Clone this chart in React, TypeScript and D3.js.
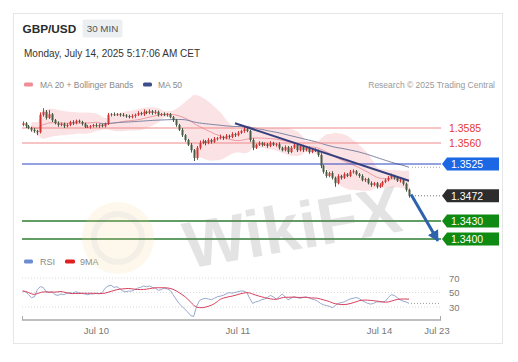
import * as d3 from 'd3';

// 30 min GBP/USD bars, Jul 9 11:30 → Jul 14 05:00 (weekend skipped)
const closes = [
  1.3593, 1.3588, 1.3585, 1.3582, 1.3580, 1.3578, 1.3607, 1.3612, 1.3602, 1.3608,
  1.3598, 1.3593, 1.3590, 1.3592, 1.3588, 1.3590, 1.3595, 1.3593, 1.3597, 1.3595,
  1.3592, 1.3587, 1.3587, 1.3588, 1.3590, 1.3588, 1.3590, 1.3588, 1.3592, 1.3607,
  1.3608, 1.3607, 1.3608, 1.3607, 1.3606, 1.3605, 1.3603, 1.3605, 1.3607, 1.3610,
  1.3608, 1.3612, 1.3610, 1.3613, 1.3610, 1.3612, 1.3607, 1.3608, 1.3607, 1.3608,
  1.3603, 1.3598, 1.3590, 1.3582, 1.3573, 1.3565, 1.3557, 1.3548, 1.3535, 1.3552,
  1.3560, 1.3563, 1.3560, 1.3565, 1.3562, 1.3567, 1.3568, 1.3570, 1.3568, 1.3572,
  1.3570, 1.3575, 1.3573, 1.3577, 1.3580, 1.3583, 1.3580, 1.3565, 1.3552, 1.3557,
  1.3560, 1.3557, 1.3558, 1.3555, 1.3560, 1.3557, 1.3558, 1.3552, 1.3548, 1.3553,
  1.3545, 1.3552, 1.3557, 1.3548, 1.3555, 1.3548, 1.3552, 1.3545, 1.3548, 1.3547,
  1.3540, 1.3522, 1.3512, 1.3505, 1.3510, 1.3502, 1.3493, 1.3505, 1.3502, 1.3508,
  1.3505, 1.3512, 1.3513, 1.3508, 1.3505, 1.3498, 1.3500, 1.3493, 1.3490, 1.3493,
  1.3487, 1.3490, 1.3495, 1.3498, 1.3502, 1.3505, 1.3502, 1.3497, 1.3498, 1.3492,
  1.3482, 1.3472,
];
const firstOpen = 1.359;

// wick length beyond the body, in pips
const wickHi = [
  3, 2, 2, 2, 3, 2, 4, 6, 3, 7,
  2, 2, 3, 2, 2, 3, 2, 3, 2, 2,
  2, 2, 3, 2, 2, 3, 2, 2, 2, 3,
  2, 3, 2, 2, 3, 2, 2, 3, 2, 3,
  2, 4, 2, 3, 2, 3, 2, 2, 3, 2,
  2, 2, 2, 2, 3, 2, 2, 3, 2, 3,
  4, 3, 2, 3, 2, 3, 2, 4, 2, 3,
  2, 3, 2, 3, 2, 4, 3, 2, 3, 2,
  3, 2, 3, 2, 3, 2, 2, 3, 2, 3,
  2, 3, 3, 2, 3, 2, 3, 2, 2, 3,
  2, 3, 2, 3, 2, 3, 2, 3, 2, 3,
  2, 3, 3, 2, 2, 3, 2, 2, 3, 2,
  2, 3, 2, 3, 3, 4, 2, 3, 2, 2,
  2, 2,
];
const wickLo = [
  2, 3, 2, 3, 3, 5, 2, 3, 3, 2,
  3, 2, 3, 2, 3, 2, 2, 3, 2, 2,
  3, 2, 2, 3, 2, 2, 3, 2, 2, 2,
  3, 2, 2, 3, 2, 3, 2, 2, 3, 2,
  2, 3, 2, 2, 3, 2, 3, 2, 2, 3,
  2, 3, 3, 2, 3, 3, 2, 4, 5, 3,
  3, 2, 4, 2, 3, 2, 3, 2, 3, 2,
  3, 2, 3, 2, 2, 3, 2, 3, 4, 2,
  2, 3, 2, 3, 2, 2, 3, 3, 2, 2,
  3, 2, 2, 3, 2, 3, 2, 3, 2, 2,
  3, 4, 3, 3, 2, 3, 6, 2, 3, 2,
  2, 2, 3, 2, 3, 2, 3, 2, 3, 2,
  3, 2, 3, 2, 2, 2, 3, 2, 3, 3,
  3, 3,
];

const rsiValues = [
  52, 51, 47, 43, 44, 54, 58, 57, 51, 50,
  51, 47, 46, 48, 47, 49, 50, 49, 51, 50,
  49, 48, 47, 48, 48, 49, 48, 50, 56, 59,
  60, 57, 58, 55, 52, 51, 52, 52, 54, 56,
  57, 59, 58, 59, 57, 56, 53, 54, 56, 55,
  53, 47, 41, 35, 31, 27, 23, 18, 17, 31,
  39, 41, 42, 41, 40, 42, 44, 45, 46, 48,
  50, 49, 50, 51, 52, 52, 50, 42, 35, 37,
  38, 40, 41, 43, 46, 44, 41, 44, 48, 44,
  40, 42, 44, 43, 42, 43, 44, 43, 41, 40,
  38, 35, 33, 32, 31, 29, 32, 35, 36, 37,
  39, 41, 42, 43, 42, 39, 37, 35, 34, 35,
  37, 37, 37, 38, 43, 47, 46, 43, 40, 38,
  37, 35,
];

const xTickLabels = ['Jul 10', 'Jul 11', 'Jul 14', 'Jul 23'];
const xTickIndex = [25, 73, 121, 140.5];
const rsiTicks = [70, 50, 30];

const resistanceLevels = [1.3585, 1.356];
const pivotLevel = 1.3525;
const lastPrice = 1.3472;
const supportLevels = [1.343, 1.34];

const trendFrom = [72, 1.3593];
const trendTo = [131, 1.3497];
const targetFrom = [131.7, 1.3474];
const targetTo = [140.8, 1.3397];

const FONT = '"Liberation Sans", Arial, sans-serif';
const PIP = 0.0001;

// simple moving average over a trailing window (shorter at the start)
const sma = (arr: number[], n: number, i: number) => {
  const w = arr.slice(Math.max(0, i - n + 1), i + 1);
  return d3.mean(w) as number;
};

export default function App() {
  const x = d3.scaleLinear().domain([0, 131]).range([22.6, 409]);
  const y = d3.scaleLinear().domain([1.34, 1.3585]).range([239, 128]);
  const ry = d3.scaleLinear().domain([30, 70]).range([307, 278]);

  const candles = closes.map((c, i) => {
    const o = i === 0 ? firstOpen : closes[i - 1];
    return {
      i,
      o,
      c,
      h: Math.max(o, c) + wickHi[i] * PIP,
      l: Math.min(o, c) - wickLo[i] * PIP,
    };
  });

  // Bollinger(20, 2) and MA50 from the closes
  const bb = closes
    .map((_, i) => {
      const w = closes.slice(Math.max(0, i - 19), i + 1);
      const m = d3.mean(w) as number;
      const sd = Math.sqrt(d3.mean(w, (v) => (v - m) ** 2) as number);
      return { i, m, up: m + 2 * sd, lo: m - 2 * sd };
    })
    .filter((d) => d.i >= 3);
  const ma50 = closes.map((_, i) => ({ i, v: sma(closes, 50, i) })).filter((d) => d.i >= 26);
  const rsiMa = rsiValues.map((_, i) => ({ i, v: sma(rsiValues, 9, i) }));

  const band = d3
    .area<any>()
    .x((d) => x(d.i))
    .y0((d) => y(d.lo))
    .y1((d) => y(d.up))
    .curve(d3.curveMonotoneX);
  const line = d3
    .line<any>()
    .x((d) => x(d.i))
    .y((d) => y(d.v))
    .curve(d3.curveMonotoneX);
  const rsiLine = d3
    .line<number>()
    .x((_, i) => x(i))
    .y((d) => ry(d));
  const rsiMaLine = d3
    .line<any>()
    .x((d) => x(d.i))
    .y((d) => ry(d.v))
    .curve(d3.curveMonotoneX);

  const lineX0 = 22;
  const lineX1 = 441;

  const tag = (v: number, fill: string, key: string) => {
    const yc = y(v);
    const pts = [
      [442, yc],
      [447, yc - 6.5],
      [499, yc - 6.5],
      [499, yc + 6.5],
      [447, yc + 6.5],
    ];
    return (
      <g key={key}>
        <polygon points={pts.map((p) => p.join(',')).join(' ')} fill={fill} />
        <text x={451} y={yc + 3.8} fontSize={10.5} fill="#fff">
          {v.toFixed(4)}
        </text>
      </g>
    );
  };

  const lastMa50 = ma50[ma50.length - 1].v;

  return (
    <svg
      width={518}
      height={362}
      style={{ position: 'absolute', left: 0, top: 0, background: '#fff' }}
      fontFamily={FONT}
    >
      <defs>
        <marker
          id="arrowHead"
          markerUnits="userSpaceOnUse"
          markerWidth={12}
          markerHeight={12}
          refX={10}
          refY={6}
          orient="auto"
        >
          <path d="M0,0 L11,6 L0,12 z" fill="#2f62ad" />
        </marker>
      </defs>

      <rect x={13.5} y={13.5} width={489} height={330} fill="#fff" stroke="#e6e6e6" />

      {/* header */}
      <text x={22.5} y={32.5} fontSize={11.8} fontWeight="bold" fill="#2a2a2a">
        GBP/USD
      </text>
      <rect x={82.5} y={19.5} width={40} height={18} rx={2} fill="#eceff1" />
      <text x={102.5} y={32} fontSize={9.8} fill="#555" textAnchor="middle">
        30 MIN
      </text>
      <text x={24} y={57} fontSize={10} fill="#333">
        Monday, July 14, 2025 5:17:06 AM CET
      </text>

      {/* legend */}
      <rect x={24} y={82.5} width={9} height={4} rx={1.5} fill="#f08c95" />
      <text x={40} y={87.8} fontSize={8.5} fill="#8a8a8a">
        MA 20 + Bollinger Bands
      </text>
      <rect x={143} y={82.5} width={9} height={4} rx={1.5} fill="#3c4f8c" />
      <text x={158} y={87.8} fontSize={8.5} fill="#8a8a8a">
        MA 50
      </text>
      <text x={495} y={87.8} fontSize={8.5} fill="#9a9a9a" textAnchor="end">
        Research © 2025 Trading Central
      </text>

      {/* bollinger band + moving averages */}
      <path d={band(bb) ?? ''} fill="#f9d3d5" opacity={0.65} />
      <path
        d={line(bb.map((d) => ({ i: d.i, v: d.m }))) ?? ''}
        fill="none"
        stroke="#ee9aa2"
        strokeWidth={1}
      />
      <path d={line(ma50) ?? ''} fill="none" stroke="#7d84a3" strokeWidth={1} />

      {/* levels */}
      {resistanceLevels.map((v) => (
        <g key={'r' + v}>
          <line x1={lineX0} x2={lineX1} y1={y(v)} y2={y(v)} stroke="#f08a8a" strokeWidth={1} />
          <text x={449} y={y(v) + 4} fontSize={10.5} fill="#e53935">
            {v.toFixed(4)}
          </text>
        </g>
      ))}
      <line x1={lineX0} x2={lineX1} y1={y(pivotLevel)} y2={y(pivotLevel)} stroke="#2f45c0" strokeWidth={1.2} />
      {supportLevels.map((v) => (
        <line key={'s' + v} x1={lineX0} x2={lineX1} y1={y(v)} y2={y(v)} stroke="#2e7d32" strokeWidth={1.6} />
      ))}

      {/* candles */}
      {candles.map((d) => {
        const cx = Math.round(x(d.i)) + 0.5;
        const col = d.c >= d.o ? '#d03434' : '#485c42';
        const top = y(Math.max(d.o, d.c));
        const bot = y(Math.min(d.o, d.c));
        return (
          <g key={d.i}>
            <line x1={cx} x2={cx} y1={y(d.h)} y2={y(d.l)} stroke={col} strokeWidth={1} />
            <rect x={cx - 1} y={top} width={2} height={Math.max(1, bot - top)} fill={col} />
          </g>
        );
      })}

      {/* dotted extensions to price tags */}
      <line
        x1={x(131) + 3}
        x2={440}
        y1={y(lastMa50)}
        y2={y(lastMa50)}
        stroke="#aaa"
        strokeDasharray="1,2"
      />
      <line
        x1={x(131) + 3}
        x2={442}
        y1={y(lastPrice)}
        y2={y(lastPrice)}
        stroke="#777"
        strokeDasharray="1,2"
      />

      {/* trend line */}
      <line
        x1={x(trendFrom[0])}
        y1={y(trendFrom[1])}
        x2={x(trendTo[0])}
        y2={y(trendTo[1])}
        stroke="#34407e"
        strokeWidth={2}
      />

      {/* target arrow */}
      <line
        x1={x(targetFrom[0])}
        y1={y(targetFrom[1])}
        x2={x(targetTo[0])}
        y2={y(targetTo[1])}
        stroke="#2f62ad"
        strokeWidth={3}
        markerEnd="url(#arrowHead)"
      />

      {tag(pivotLevel, '#1c67e3', 'p')}
      {tag(lastPrice, '#2d2d2d', 'l')}
      {supportLevels.map((v) => tag(v, '#0f8a12', 's' + v))}

      {/* RSI panel */}
      <rect x={24} y={259.5} width={9} height={4} rx={1.5} fill="#6d8bd0" />
      <text x={40} y={265} fontSize={9} fill="#8a8a8a">
        RSI
      </text>
      <rect x={65} y={259.5} width={10} height={4} rx={1.5} fill="#e02020" />
      <text x={80} y={265} fontSize={9} fill="#8a8a8a">
        9MA
      </text>

      {rsiTicks.map((t) => (
        <g key={t}>
          <line x1={lineX0} x2={440} y1={ry(t)} y2={ry(t)} stroke="#d8d8d8" strokeDasharray="1,2" />
          <text x={449} y={ry(t) + 3.5} fontSize={9.5} fill="#7a7a7a">
            {t}
          </text>
        </g>
      ))}
      <line
        x1={x(131) + 2}
        x2={440}
        y1={ry(rsiValues[rsiValues.length - 1])}
        y2={ry(rsiValues[rsiValues.length - 1])}
        stroke="#999"
        strokeDasharray="1,2"
      />
      <path d={rsiLine(rsiValues) ?? ''} fill="none" stroke="#98a8cc" strokeWidth={1} />
      <path d={rsiMaLine(rsiMa) ?? ''} fill="none" stroke="#d6405e" strokeWidth={1} />

      {/* time axis */}
      <line x1={22} x2={441} y1={320} y2={320} stroke="#aaa" strokeWidth={1.5} />
      <line x1={22.5} x2={22.5} y1={316} y2={320} stroke="#aaa" />
      <line x1={440.5} x2={440.5} y1={316} y2={320} stroke="#aaa" />
      {xTickLabels.map((lab, k) => (
        <text key={lab} x={x(xTickIndex[k])} y={334} fontSize={9.5} fill="#777" textAnchor="middle">
          {lab}
        </text>
      ))}

      {/* watermark */}
      <g opacity={0.3}>
        <circle cx={118} cy={238} r={36} fill="#f6d98a" opacity={0.55} />
        <circle cx={118} cy={238} r={24} fill="none" stroke="#999" strokeWidth={6} opacity={0.35} />
      </g>
      <text
        x={292}
        y={250}
        fontSize={66}
        fontWeight="bold"
        fill="#777"
        opacity={0.2}
        textAnchor="middle"
        transform="rotate(-10 292 225)"
      >
        WikiFX
      </text>
    </svg>
  );
}
